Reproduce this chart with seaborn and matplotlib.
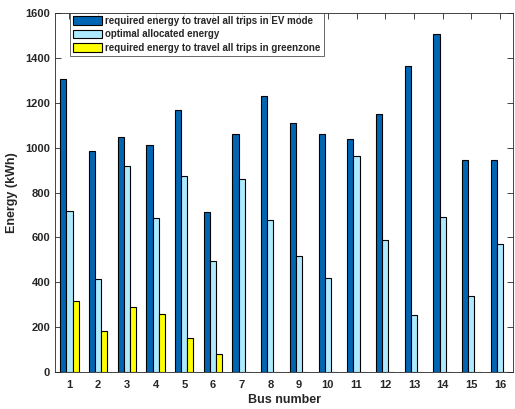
import pandas as pd
import matplotlib
matplotlib.use('Agg')
import matplotlib.pyplot as plt
import seaborn as sns

# values
buses = [str(i) for i in range(1, 17)]
ev_mode = [1305, 985, 1048, 1010, 1168, 715, 1060, 1232, 1110, 1060, 1040, 1150, 1365, 1505, 945, 945]
optimal = [717, 413, 920, 685, 872, 495, 860, 678, 518, 420, 962, 588, 255, 693, 338, 570]
greenzone = [318, 183, 290, 257, 150, 78, 0, 0, 0, 0, 0, 0, 0, 0, 0, 0]

series_names = ['required energy to travel all trips in EV mode',
                'optimal allocated energy',
                'required energy to travel all trips in greenzone']
colors = ['#0066b3', '#aeeaff', '#ffff00']

# long format table for seaborn
df = pd.concat([
    pd.DataFrame({'bus': buses, 'energy': vals, 'series': name})
    for name, vals in zip(series_names, [ev_mode, optimal, greenzone])
])

sns.set_style('white')
plt.rcParams['font.family'] = ['Liberation Sans', 'DejaVu Sans']
plt.rcParams['font.weight'] = 'bold'
plt.rcParams['text.color'] = '#262626'

fig = plt.figure(figsize=(5.15, 4.09), dpi=100)
ax = fig.add_axes([0.107, 0.0905, 0.889, 0.8775])

sns.barplot(data=df, x='bus', y='energy', hue='series', hue_order=series_names,
            palette=colors, saturation=1, width=0.64, gap=0,
            edgecolor='black', linewidth=0.8, ax=ax)

ax.set_ylim(0, 1600)
ax.set_xlim(-0.5, 15.45)
ax.set_yticks(range(0, 1601, 200))
ax.set_xlabel('Bus number', fontsize=9, fontweight='bold', labelpad=3, color='#262626')
ax.set_ylabel('Energy (kWh)', fontsize=9, fontweight='bold', labelpad=5, color='#262626')
ax.tick_params(direction='in', length=4, width=0.6, colors='#262626',
               labelsize=8, top=True, right=True, bottom=True, left=True)
ax.tick_params(axis='x', pad=6)
for lbl in ax.get_xticklabels() + ax.get_yticklabels():
    lbl.set_fontweight('bold')
for s in ax.spines.values():
    s.set_color('#262626')
    s.set_linewidth(0.6)

sns.move_legend(ax, 'upper left', bbox_to_anchor=(0.033, 1.0), title=None,
                borderaxespad=0, fontsize=7, handlelength=3.0, handleheight=1.0,
                labelspacing=0.35, handletextpad=0.3, borderpad=0.3,
                frameon=True, fancybox=False, edgecolor='#262626')
leg = ax.get_legend()
leg.get_frame().set_linewidth(0.6)
for t in leg.get_texts():
    t.set_fontweight('bold')
    t.set_color('#262626')

plt.savefig('out.png', dpi=100)
